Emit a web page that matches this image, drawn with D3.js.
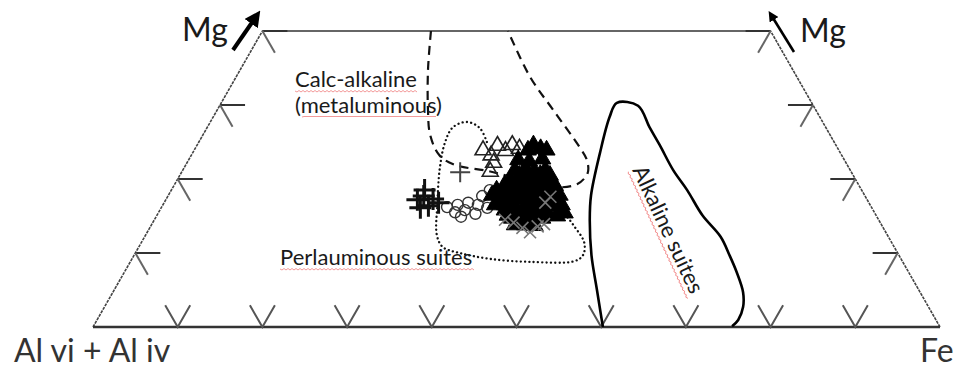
<!DOCTYPE html>
<html>
<head>
<meta charset="utf-8">
<script src="https://cdnjs.cloudflare.com/ajax/libs/d3/7.8.5/d3.min.js"></script>
<style>
  body { margin: 0; background: #fff; }
  svg { display: block; font-family: Lato, "Open Sans", sans-serif; }
</style>
</head>
<body>
<div id="chart"></div>
<script>
// All points are [Fe, Mg] in percent, Al = 100 - Fe - Mg
var baseTicks = [10, 20, 30, 40, 50, 60, 70, 80, 90];
var sideTicks = [10, 20, 30, 40];
var mgMax = 40;

// field boundaries
var calcAlkaline = [
  [19.9, 40], [22.2, 34.7], [24.9, 29.3], [26.8, 26.0], [29.3, 23.2], [31.8, 21.9],
  [36.0, 21.1], [40.0, 20.1], [44.8, 18.9], [47.5, 19.3], [48.0, 20.8], [47.0, 22.6],
  [45.3, 24.3], [39.7, 29.3], [34.7, 33.8], [29.0, 40]
];
var perlauminous = [
  [34.0, 25.0], [32.2, 26.9], [30.3, 27.7], [29.0, 27.0], [29.1, 24.9], [30.2, 21.5],
  [32.4, 16.5], [34.4, 12.4], [35.9, 10.8], [38.3, 10.0], [42.3, 9.2], [47.2, 8.8],
  [52.4, 8.9], [53.0, 9.7], [52.3, 11.4], [49.8, 13.8], [47.5, 15.8], [46.1, 17.2]
];
var alkaline = [
  [60.2, 0], [57.0, 5.0], [54.0, 9.7], [51.4, 14.5], [49.9, 17.8], [48.1, 23.5],
  [46.8, 28.4], [46.7, 30.3], [49.4, 29.9], [52.2, 27.0], [54.6, 24.6], [57.9, 21.2],
  [60.9, 18.5], [64.4, 15.1], [68.0, 12.2], [70.3, 9.7], [72.3, 7.4], [74.4, 4.7],
  [75.4, 2.7], [75.7, 0.95], [75.4, 0.1]
];

// samples
var plusPoints = [[32.9, 20.9], [29.7, 17.2], [30.2, 17.7], [31.4, 16.4], [30.6, 16.1],
  [31.5, 17.3], [32.4, 16.8], [29.9, 18.5]];
var circlePoints = [[33.7, 16.2], [35.0, 15.5], [34.8, 16.5], [36.0, 15.8], [35.9, 16.8],
  [37.5, 15.3], [37.2, 16.5], [37.1, 17.7], [38.5, 16.1], [36.0, 14.9], [37.6, 18.5]];
var openTriangles = [[34.1, 23.9], [35.4, 23.2], [35.5, 24.5], [36.8, 23.8], [37.2, 24.6],
  [38.3, 24.1], [36.2, 22.2], [36.4, 21.0]];
var filledTriangles = [
  [39.7, 24.6], [41.6, 23.9], [39.4, 23.9], [40.8, 24.1],
  [38.9, 22.6], [40.3, 22.4], [41.7, 22.7],
  [39.2, 21.2], [40.4, 21.3], [41.6, 21.0], [42.8, 21.2],
  [40.1, 20.5], [41.3, 20.5], [42.5, 20.6], [43.7, 20.5],
  [39.3, 19.9], [40.5, 20.0], [41.7, 19.8], [42.8, 19.9], [44.0, 19.7],
  [39.0, 19.2], [40.2, 19.2], [41.4, 19.1], [42.6, 19.2], [43.8, 19.2], [45.0, 19.1],
  [38.4, 18.5], [39.6, 18.4], [40.8, 18.6], [42.0, 18.5], [43.2, 18.4], [44.3, 18.5], [45.3, 18.3],
  [38.2, 17.8], [39.4, 17.8], [40.6, 17.9], [41.7, 17.8], [42.9, 17.8], [44.1, 17.9], [45.3, 17.8], [46.2, 17.8],
  [39.5, 17.2], [40.7, 17.1], [41.8, 17.3], [43.0, 17.2], [44.2, 17.0], [45.4, 17.2], [46.3, 17.0],
  [39.2, 16.5], [40.4, 16.5], [41.6, 16.4], [42.8, 16.5], [43.9, 16.6], [45.1, 16.5], [46.3, 16.4], [47.1, 16.5],
  [40.7, 15.8], [41.9, 15.9], [43.1, 15.7], [44.3, 15.8], [45.5, 15.9], [47.2, 15.6],
  [41.4, 15.1], [42.6, 15.1], [43.8, 15.2], [45.0, 15.1], [46.1, 15.1], [47.3, 15.0], [48.0, 15.4],
  [42.1, 14.7], [43.3, 14.6], [44.5, 14.8], [45.7, 14.7],
  [42.9, 13.8], [44.1, 13.8], [45.3, 13.7]
];
var crossPoints = [[42.6, 14.1], [44.0, 13.4], [45.2, 12.8], [45.7, 13.6], [45.0, 16.8],
  [45.2, 17.6], [41.4, 14.5], [46.3, 13.9]];

var width = 960, height = 369;

var xScale = d3.scaleLinear().domain([0, 100]).range([93, 940]);
var yScale = d3.scaleLinear().domain([0, mgMax]).range([327, 31]);

function px(d) { return xScale(d[0] + d[1] / 2); }
function py(d) { return yScale(d[1]); }

var svg = d3.select("#chart").append("svg")
    .attr("width", width)
    .attr("height", height);

var defs = svg.append("defs");
defs.append("marker")
    .attr("id", "head")
    .attr("viewBox", "0 0 10 10")
    .attr("refX", 2).attr("refY", 5)
    .attr("markerWidth", 4).attr("markerHeight", 4)
    .attr("orient", "auto")
  .append("path")
    .attr("d", "M0,0 L10,5 L0,10 z")
    .attr("fill", "#000");

// frame of the truncated triangle
var frame = svg.append("g");
frame.append("line")
    .attr("x1", px([0, 0])).attr("y1", py([0, 0]))
    .attr("x2", px([0, mgMax])).attr("y2", py([0, mgMax]))
    .attr("stroke", "#444").attr("stroke-width", 1.6).attr("stroke-dasharray", "3,1");
frame.append("line")
    .attr("x1", px([100, 0])).attr("y1", py([100, 0]))
    .attr("x2", px([100 - mgMax, mgMax])).attr("y2", py([100 - mgMax, mgMax]))
    .attr("stroke", "#444").attr("stroke-width", 1.6).attr("stroke-dasharray", "3,1");
frame.append("line")
    .attr("x1", px([0, mgMax])).attr("y1", py([0, mgMax]))
    .attr("x2", px([100 - mgMax, mgMax])).attr("y2", py([100 - mgMax, mgMax]))
    .attr("stroke", "#333").attr("stroke-width", 1.5);
frame.append("line")
    .attr("x1", px([0, 0])).attr("y1", py([0, 0]))
    .attr("x2", px([100, 0])).attr("y2", py([100, 0]))
    .attr("stroke", "#333").attr("stroke-width", 2.5);

// ticks
var arm = 25;
var ticks = svg.append("g").attr("stroke-width", 2);
baseTicks.forEach(function(t) {
  var x = xScale(t), y = yScale(0);
  ticks.append("path")
      .attr("d", "M" + (x - arm * 0.5) + "," + (y - arm * 0.866) + "L" + x + "," + y +
                 "L" + (x + arm * 0.5) + "," + (y - arm * 0.866))
      .attr("fill", "none").attr("stroke", "#555");
});
sideTicks.forEach(function(m) {
  var xl = px([0, m]), yl = py([0, m]);
  ticks.append("line").attr("x1", xl).attr("y1", yl).attr("x2", xl + arm).attr("y2", yl)
      .attr("stroke", "#333");
  ticks.append("line").attr("x1", xl).attr("y1", yl)
      .attr("x2", xl + arm * 0.5).attr("y2", yl + arm * 0.866)
      .attr("stroke", "#666");
  var xr = px([100 - m, m]), yr = py([100 - m, m]);
  ticks.append("line").attr("x1", xr).attr("y1", yr).attr("x2", xr - arm).attr("y2", yr)
      .attr("stroke", "#333");
  ticks.append("line").attr("x1", xr).attr("y1", yr)
      .attr("x2", xr - arm * 0.5).attr("y2", yr + arm * 0.866)
      .attr("stroke", "#666");
});

// fields
var curve = d3.line().x(px).y(py).curve(d3.curveCatmullRom.alpha(0.5));
svg.append("path").attr("d", curve(calcAlkaline))
    .attr("fill", "none").attr("stroke", "#111").attr("stroke-width", 2.2)
    .attr("stroke-dasharray", "9,6");
svg.append("path").attr("d", curve(perlauminous))
    .attr("fill", "none").attr("stroke", "#111").attr("stroke-width", 2.3)
    .attr("stroke-linecap", "round").attr("stroke-dasharray", "0.1,4.2");
svg.append("path").attr("d", curve(alkaline))
    .attr("fill", "none").attr("stroke", "#000").attr("stroke-width", 2.6)
    .attr("stroke-linejoin", "round");

// samples
var openTri = d3.symbol().type(d3.symbolTriangle).size(110);
var fillTri = d3.symbol().type(d3.symbolTriangle).size(125);
var pts = svg.append("g");

pts.selectAll(".circ").data(circlePoints).enter().append("circle")
    .attr("cx", px).attr("cy", py).attr("r", 5.5)
    .attr("fill", "none").attr("stroke", "#333").attr("stroke-width", 1.4);

pts.selectAll(".otri").data(openTriangles).enter().append("path")
    .attr("d", openTri)
    .attr("transform", function(d) { return "translate(" + px(d) + "," + py(d) + ")"; })
    .attr("fill", "none").attr("stroke", "#222").attr("stroke-width", 1.6);

pts.selectAll(".ftri").data(filledTriangles).enter().append("path")
    .attr("d", fillTri)
    .attr("transform", function(d) { return "translate(" + px(d) + "," + py(d) + ")"; })
    .attr("fill", "#000").attr("stroke", "#000").attr("stroke-width", 1);

pts.selectAll(".cross").data(crossPoints).enter().append("path")
    .attr("d", function(d) {
      var x = px(d), y = py(d), r = 6;
      return "M" + (x - r) + "," + (y - r) + "L" + (x + r) + "," + (y + r) +
             "M" + (x - r) + "," + (y + r) + "L" + (x + r) + "," + (y - r);
    })
    .attr("stroke", "#777").attr("stroke-width", 1.6);

pts.selectAll(".plus").data(plusPoints).enter().append("path")
    .attr("d", function(d, i) {
      var x = px(d), y = py(d), r = i === 0 ? 10 : 11;
      return "M" + (x - r) + "," + y + "L" + (x + r) + "," + y +
             "M" + x + "," + (y - r) + "L" + x + "," + (y + r);
    })
    .attr("stroke", function(d, i) { return i === 0 ? "#444" : "#111"; })
    .attr("stroke-width", function(d, i) { return i === 0 ? 2 : 3; });

// Mg arrows
svg.append("line").attr("x1", 233).attr("y1", 50).attr("x2", 253).attr("y2", 21)
    .attr("stroke", "#000").attr("stroke-width", 4).attr("marker-end", "url(#head)");
svg.append("line").attr("x1", 794).attr("y1", 52).attr("x2", 773).attr("y2", 18)
    .attr("stroke", "#000").attr("stroke-width", 2.6).attr("marker-end", "url(#head)");

// labels
function label(text, x, y, size, angle, underline) {
  var g = svg.append("g")
      .attr("transform", "translate(" + x + "," + y + ")" + (angle ? " rotate(" + angle + ")" : ""));
  var t = g.append("text").text(text)
      .attr("font-size", size).attr("fill", "#1a1a1a");
  if (underline) {
    var len = t.node().getComputedTextLength();
    var a = underline[0], b = len - underline[1], d = "M" + a + ",4";
    for (var s = a; s < b; s += 2) d += "L" + (s + 2) + "," + (s % 4 === 0 ? 5 : 3.5);
    g.append("path").attr("d", d).attr("fill", "none")
        .attr("stroke", "#f08080").attr("stroke-width", 0.8);
  }
  return t;
}

label("Mg", 182, 41, 32);
label("Mg", 800, 42, 32);
label("Al vi + Al iv", 14, 362, 32).attr("fill", "#333");
label("Fe", 920, 362, 32).attr("fill", "#333");
label("Calc-alkaline", 295, 87, 22, 0, [0, 0]);
label("(metaluminous)", 295, 113, 22, 0, [7, 7]);
label("Perlauminous suites", 280, 265, 22, 0, [0, 0]);
label("Alkaline suites", 632, 170, 22, 65, [0, 0]);
</script>
</body>
</html>
